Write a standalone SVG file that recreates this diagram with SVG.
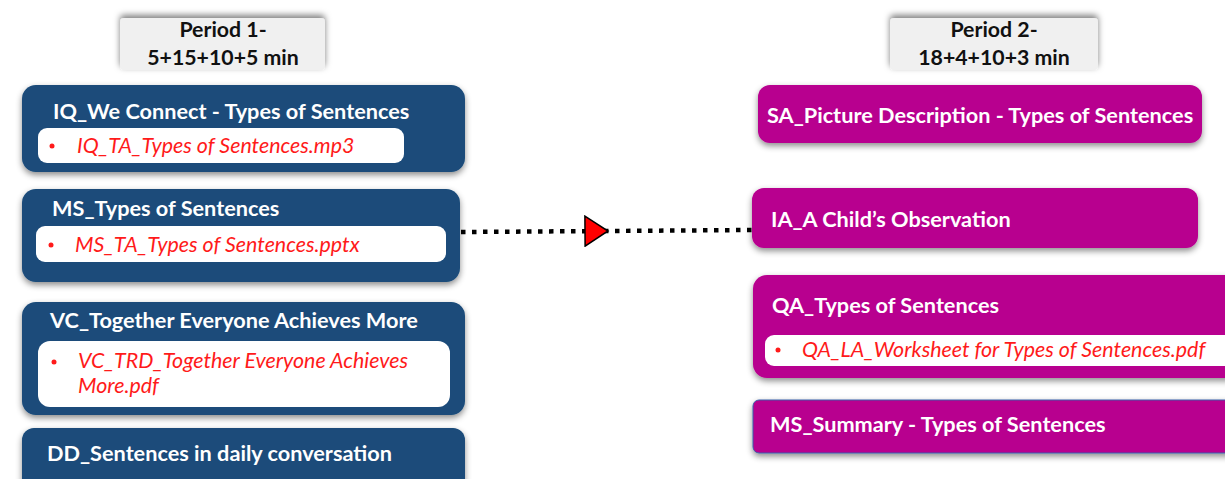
<svg xmlns="http://www.w3.org/2000/svg" width="1225" height="479" viewBox="0 0 1225 479">
<defs>
<filter id="sh" x="-10%" y="-20%" width="120%" height="150%">
<feDropShadow dx="0" dy="3" stdDeviation="3" flood-color="#000" flood-opacity="0.45"/>
</filter>
<filter id="shp" x="-10%" y="-30%" width="120%" height="160%">
<feDropShadow dx="0" dy="-3" stdDeviation="3" flood-color="#000" flood-opacity="0.5"/>
</filter>
<marker id="tri" markerWidth="26" markerHeight="32" refX="24" refY="16" orient="auto" markerUnits="userSpaceOnUse">
<polygon points="1,1 24,16 1,31" fill="#ff0000" stroke="#000" stroke-width="1.5"/>
</marker>
<style>
.blue{fill:#1a4b7a;filter:url(#sh)}
.mag{fill:#b8008f;filter:url(#sh)}
.per{fill:#f0f0f0;filter:url(#shp)}
.inner{fill:#fff}
.t{font-family:Lato,"Open Sans","Liberation Sans",sans-serif;font-size:21.7px;font-weight:bold;fill:#fff}
.p{font-family:Lato,"Open Sans","Liberation Sans",sans-serif;font-size:21.3px;font-weight:bold;fill:#111;text-anchor:middle}
.r{font-family:Lato,"Open Sans","Liberation Sans",sans-serif;font-size:21.4px;font-style:italic;fill:#ff1a1a}
.b{fill:#ff1a1a}
.conn{fill:none;stroke:#000;stroke-width:4.5;stroke-dasharray:4.5 6.5}
</style>
</defs>

<g id="period1">
<rect class="per" x="120" y="18" width="205" height="52" rx="4"/>
<text class="p" x="223" y="37">Period 1-</text>
<text class="p" x="223" y="65">5+15+10+5 min</text>
</g>

<g id="period2">
<rect class="per" x="890" y="18" width="208" height="52" rx="4"/>
<text class="p" x="994" y="37">Period 2-</text>
<text class="p" x="994" y="65">18+4+10+3 min</text>
</g>

<g id="iq">
<rect class="blue" x="22" y="85" width="443" height="87" rx="14"/>
<text class="t" x="53" y="119">IQ_We Connect - Types of Sentences</text>
<rect class="inner" x="38" y="128" width="366" height="35" rx="9"/>
<circle class="b" cx="52" cy="146" r="2.5"/>
<text class="r" x="77" y="153">IQ_TA_Types of Sentences.mp3</text>
</g>

<g id="ms">
<rect class="blue" x="22" y="189" width="438" height="93" rx="14"/>
<text class="t" x="52" y="216">MS_Types of Sentences</text>
<rect class="inner" x="36" y="226" width="410" height="36" rx="9"/>
<circle class="b" cx="51" cy="245" r="2.5"/>
<text class="r" x="75" y="252">MS_TA_Types of Sentences.pptx</text>
</g>

<g id="vc">
<rect class="blue" x="22" y="302" width="443" height="113" rx="14"/>
<text class="t" x="50" y="328">VC_Together Everyone Achieves More</text>
<rect class="inner" x="38" y="341" width="412" height="66" rx="12"/>
<circle class="b" cx="54" cy="362" r="2.5"/>
<text class="r" x="78" y="368">VC_TRD_Together Everyone Achieves</text>
<text class="r" x="78" y="393">More.pdf</text>
</g>

<g id="dd">
<rect class="blue" x="22" y="428" width="443" height="70" rx="12"/>
<text class="t" x="47" y="461">DD_Sentences in daily conversation</text>
</g>

<g id="sa">
<rect class="mag" x="758" y="85" width="444" height="58" rx="12"/>
<text class="t" x="767" y="123">SA_Picture Description - Types of Sentences</text>
</g>

<g id="ia">
<rect class="mag" x="752" y="188" width="446" height="60" rx="12"/>
<text class="t" x="771" y="227">IA_A Child’s Observation</text>
</g>

<g id="qa">
<rect class="mag" x="753" y="275" width="490" height="103" rx="14"/>
<text class="t" x="772" y="313">QA_Types of Sentences</text>
<rect class="inner" x="765" y="335" width="470" height="31" rx="9"/>
<circle class="b" cx="778" cy="350" r="2.5"/>
<text class="r" x="802" y="357">QA_LA_Worksheet for Types of Sentences.pdf</text>
</g>

<g id="mss">
<rect class="mag" x="753" y="400" width="490" height="53" rx="6" stroke="#3b5fa8" stroke-width="1"/>
<text class="t" x="770" y="432">MS_Summary - Types of Sentences</text>
</g>

<g id="connectors">
<path class="conn" d="M461 232 L608 231 L752 230" marker-mid="url(#tri)"/>
</g>
</svg>
